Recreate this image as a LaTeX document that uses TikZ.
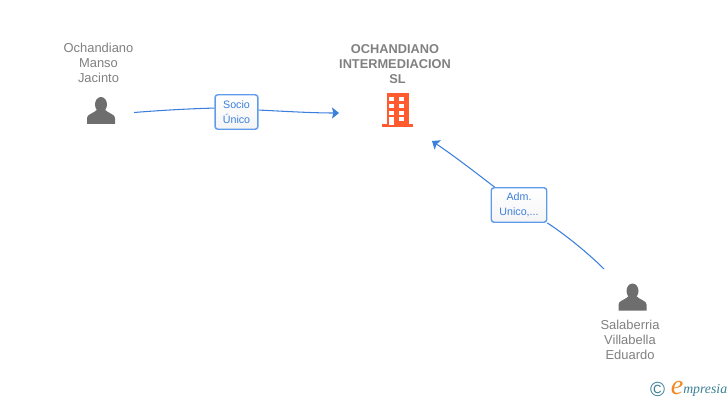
\documentclass[tikz,border=0pt]{standalone}
\usepackage{fontspec}
\setmainfont{Liberation Sans}
\newfontfamily\logofont{Liberation Serif}
\usepackage{xcolor}
\usetikzlibrary{arrows.meta}
\definecolor{linkblue}{HTML}{3B7FDC}
\definecolor{boxblue}{HTML}{5E9BEA}
\definecolor{namegray}{HTML}{808080}
\definecolor{icongray}{HTML}{6E6E6E}
\definecolor{brickred}{HTML}{FF5B2E}
\definecolor{logoteal}{HTML}{3A7F95}
\definecolor{logoorange}{HTML}{F08A24}
\tikzset{
  namelabel/.style={align=center, text=namegray, font=\fontsize{9.2}{10.7}\selectfont},
  firmlabel/.style={align=center, text=namegray, font=\fontsize{9.1}{10.7}\selectfont\bfseries},
  linkbox/.style={draw=boxblue, line width=1pt, rounded corners=2pt, top color=white, bottom color=gray!8, text=linkblue, align=center, font=\fontsize{7.6}{10.7}\selectfont, inner sep=0pt},
  linkline/.style={draw=linkblue, line width=0.75pt},
  linkarrow/.style={linkline, -{Stealth[length=5pt,width=8pt,inset=1pt]}},
  person/.pic={
    \fill[icongray] (0,-0.5) ellipse (6 and 7.5);
    \fill[icongray] (-14,19) -- (-14,13) .. controls (-14,9) and (-8,9) .. (-3,4) -- (3,4) .. controls (8,9) and (14,9) .. (14,13) -- (14,19) -- cycle;
  }
}
\begin{document}
\begin{tikzpicture}[x=0.025cm,y=-0.025cm]
  \useasboundingbox (0,0) rectangle (728,400);

  \node[namelabel] (manso) at (98.5,63) {Ochandiano\\Manso\\Jacinto};
  \node[firmlabel] (firm) at (395,64) {OCHANDIANO\\INTERMEDIACION\\\hspace*{3.5pt}SL};
  \node[namelabel] (salaberria) at (630,340) {Salaberria\\Villabella\\Eduardo};

  \pic at (101,105) {person};
  \pic at (632.5,291.5) {person};

  % building
  \fill[brickred] (386.5,93) rectangle (408.5,125);
  \fill[brickred] (381.5,124) rectangle (413,127);
  \foreach \wy in {96.7,104,111}{
    \fill[white] (389.3,\wy) rectangle (394,\wy+4);
    \fill[white] (399.3,\wy) rectangle (404,\wy+4);
  }
  \fill[white] (389.3,117.5) rectangle (394,124.7);
  \fill[white] (399.3,117.5) rectangle (404,121.5);

  \coordinate (mansoend) at (134,112.5);
  \coordinate (firmleft) at (339,113);
  \coordinate (salaend) at (604,269);
  \coordinate (firmdown) at (432,141);

  \node[linkbox, minimum width=30.5pt, minimum height=24.5pt] (socio) at (236.5,112) {Socio\\Único};
  \node[linkbox, minimum width=39.5pt, minimum height=24.5pt] (adm) at (519,205) {Adm.\\Unico,...};

  \draw[linkline] (mansoend) .. controls (165,110) and (195,108.5) .. (socio.170);
  \draw[linkarrow] (socio.5) .. controls (280,111) and (310,113) .. (firmleft);
  \draw[linkline] (salaend) .. controls (585,250) and (560,231) .. (adm);
  \draw[linkarrow] (adm) .. controls (485,180) and (460,160) .. (firmdown);

  % logo
  \node[text=logoteal, font=\fontsize{14.5}{14.5}\selectfont, inner sep=0pt] (copyr) at (657.5,389) {©};
  \node[text=logoorange, font=\logofont\fontsize{20}{20}\selectfont\itshape, inner sep=0pt] (logoe) at (677,388) {e};
  \node[text=logoteal, font=\logofont\fontsize{9.8}{10}\selectfont\itshape, inner sep=0pt, anchor=west] (logotext) at (683,390) {mpresia};
\end{tikzpicture}
\end{document}
